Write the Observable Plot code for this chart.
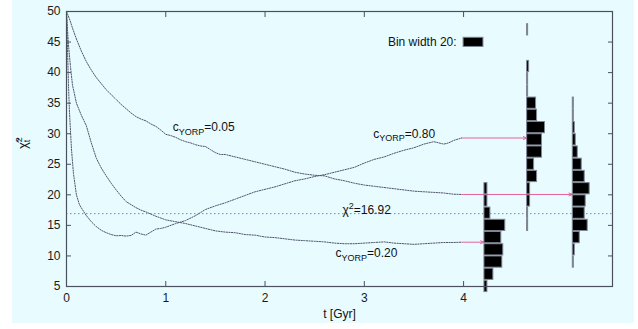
<!DOCTYPE html>
<html>
<head>
<meta charset="utf-8">
<script src="https://cdn.jsdelivr.net/npm/d3@7"></script>
<script src="https://cdn.jsdelivr.net/npm/@observablehq/plot@0.6"></script>
<style>
  html, body { margin: 0; padding: 0; background: #ffffff; }
  #wrap { position: relative; width: 638px; height: 329px; overflow: hidden; }
  #bg { position: absolute; left: 12px; top: 0; width: 622px; height: 323px; background: #e8fcff; }
  #chart { position: absolute; left: 0; top: 0; }
  #chart svg { display: block; }
</style>
</head>
<body>
<div id="wrap"><div id="bg"></div><div id="chart"></div></div>
<script>
// ---- data ----
const xTicks = [0, 1, 2, 3, 4];
const yTicks = [5, 10, 15, 20, 25, 30, 35, 40, 45, 50];

const t005 = [0, 0.03, 0.06, 0.1, 0.15, 0.2, 0.25, 0.3, 0.35, 0.4, 0.45, 0.5, 0.55, 0.6, 0.65, 0.7, 0.75, 0.8, 0.85, 0.9, 0.95, 1.0, 1.05, 1.1, 1.15, 1.2, 1.25, 1.3, 1.35, 1.4, 1.45, 1.5, 1.55, 1.6, 1.7, 1.8, 1.9, 2.0, 2.1, 2.2, 2.3, 2.4, 2.5, 2.6, 2.7, 2.8, 2.9, 3.0, 3.1, 3.2, 3.3, 3.4, 3.5, 3.6, 3.7, 3.8, 3.9, 3.98];
const v005 = [50, 48.8, 47.3, 45.5, 43.5, 41.8, 40.4, 39.2, 38.2, 37.2, 36.4, 35.6, 34.8, 34.1, 33.4, 32.8, 32.4, 32.1, 31.6, 31.2, 30.6, 29.9, 29.7, 29.4, 29.0, 28.7, 28.5, 28.2, 28.0, 27.9, 27.4, 26.9, 26.6, 26.6, 26.2, 25.8, 25.4, 25.0, 24.6, 24.2, 23.7, 23.4, 23.2, 23.1, 22.6, 22.3, 21.9, 21.6, 21.4, 21.2, 21.0, 20.8, 20.6, 20.5, 20.4, 20.3, 20.1, 20.06];

const t020 = [0, 0.01, 0.02, 0.04, 0.06, 0.1, 0.15, 0.2, 0.25, 0.3, 0.35, 0.4, 0.45, 0.5, 0.55, 0.6, 0.65, 0.7, 0.75, 0.8, 0.9, 1.0, 1.1, 1.2, 1.3, 1.4, 1.5, 1.6, 1.7, 1.8, 1.9, 2.0, 2.1, 2.2, 2.3, 2.4, 2.5, 2.6, 2.7, 2.8, 2.9, 3.0, 3.1, 3.2, 3.3, 3.4, 3.5, 3.6, 3.7, 3.8, 3.9, 3.98];
const v020 = [50, 47, 44.5, 41, 38, 35, 33, 31.3, 28.5, 26, 24.4, 23.1, 21.9, 20.8, 19.8, 18.9, 18.4, 17.9, 17.5, 17.2, 16.5, 15.9, 15.6, 15.3, 14.9, 14.5, 14.1, 13.9, 13.8, 13.5, 13.4, 13.1, 13.0, 12.8, 12.6, 12.5, 12.4, 12.3, 12.1, 12.0, 12.0, 12.1, 12.2, 12.3, 12.1, 12.0, 11.9, 12.0, 12.1, 12.2, 12.2, 12.25];

const t080 = [0, 0.01, 0.02, 0.03, 0.05, 0.07, 0.1, 0.13, 0.16, 0.2, 0.25, 0.3, 0.35, 0.4, 0.45, 0.5, 0.55, 0.6, 0.65, 0.7, 0.75, 0.8, 0.85, 0.9, 0.95, 1.0, 1.1, 1.2, 1.3, 1.4, 1.5, 1.6, 1.7, 1.8, 1.9, 2.0, 2.1, 2.2, 2.3, 2.4, 2.5, 2.6, 2.7, 2.8, 2.9, 3.0, 3.1, 3.2, 3.3, 3.4, 3.5, 3.6, 3.7, 3.75, 3.8, 3.85, 3.9, 3.98];
const v080 = [50, 44, 38, 33.5, 27.5, 23.5, 20.0, 18.4, 17.6, 16.6, 15.6, 14.8, 14.2, 13.8, 13.5, 13.3, 13.35, 13.25, 13.35, 13.9, 13.6, 13.4, 13.9, 14.4, 14.5, 14.7, 15.3, 15.8, 16.6, 17.6, 18.2, 18.7, 19.3, 19.9, 20.5, 20.9, 21.3, 21.8, 22.3, 22.6, 23.0, 23.3, 23.7, 24.1, 24.5, 25.2, 25.8, 26.2, 26.8, 27.3, 27.7, 28.3, 28.7, 28.5, 28.3, 28.5, 28.9, 29.3];

const chiSq = 16.92;

// histograms: bin centres (bin width 2) and counts
const binCenters020 = [5, 7, 9, 11, 13, 15, 17, 19, 21];
const counts020     = [3, 9, 18, 19, 17, 21, 6, 3, 3];
const binCenters080 = [15, 17, 19, 21, 23, 25, 27, 29, 31, 33, 35, 37, 39, 41, 47];
const counts080     = [1, 1, 3, 3, 10, 7, 15, 15, 18, 10, 9, 1, 1, 2, 1];
const binCenters005 = [9, 11, 13, 15, 17, 19, 21, 23, 25, 27, 29, 31, 33, 35];
const counts005     = [1, 2, 7, 15, 12, 13, 17, 12, 9, 5, 3, 2, 1, 1];
const histBase = {"0.20": 4.21, "0.80": 4.64, "0.05": 5.10};   // t position of each histogram
const binUnit = 0.01;    // Gyr per count (20 counts = legend bar)
const legendCount = 20;

// arrows from curve end to histogram
const arrowNames = ["0.20", "0.80", "0.05"];
const arrowStart = [3.98, 3.98, 3.98];
const arrowY = [12.25, 29.3, 20.06];

// labels
const labelTexts = ["c_{YORP}=0.05", "c_{YORP}=0.80", "χ^{2}=16.92", "c_{YORP}=0.20"];
const labelT = [1.07, 3.09, 2.78, 2.71];
const labelV = [31.0, 30.0, 17.55, 10.45];

// ---- build tables ----
const line = (ts, vs) => ts.map((t, i) => ({t, v: vs[i]}));
const hist = [];
[["0.20", binCenters020, counts020], ["0.80", binCenters080, counts080], ["0.05", binCenters005, counts005]]
  .forEach(([k, cs, ns]) => cs.forEach((c, i) => hist.push({base: histBase[k], center: c, count: ns[i]})));
const arrows = arrowNames.map((k, i) => ({x1: arrowStart[i], x2: histBase[k], y: arrowY[i]}));
const labels = labelTexts.map((s, i) => ({s, t: labelT[i], v: labelV[i]}));
const legend = [{x: 4.0, count: legendCount, y1: 44.2, y2: 45.7, label: "Bin width 20:", lx: 3.93, ly: 45.0}];

const curveStyle = {x: "t", y: "v", stroke: "#50566c", strokeWidth: 1, strokeDasharray: "1.3,1.3"};
const ink = "#4a5060";

const plot = Plot.plot({
  width: 638, height: 329,
  marginLeft: 66, marginRight: 26, marginTop: 11, marginBottom: 43,
  x: {domain: [0, 5.5]},
  y: {domain: [5, 50]},
  style: {background: "transparent", fontFamily: "'Liberation Sans', Arial, sans-serif", fontSize: "12px", color: "#1a1a1a"},
  marks: [
    Plot.ruleY([chiSq], {stroke: "#6a84d4", strokeWidth: 1, strokeDasharray: "1.5,2.5"}),
    Plot.line(line(t005, v005), curveStyle),
    Plot.line(line(t020, v020), curveStyle),
    Plot.line(line(t080, v080), curveStyle),
    Plot.arrow(arrows, {x1: "x1", x2: "x2", y1: "y", y2: "y", stroke: "#e8609c", strokeWidth: 1, headLength: 6, headAngle: 40}),
    Plot.rect(hist, {x1: "base", x2: d => d.base + d.count * binUnit, y1: d => d.center - 1, y2: d => d.center + 1,
      insetTop: 0.5, insetBottom: 0.5, fill: "#000", stroke: "#7f8594", strokeWidth: 1}),
    Plot.rect(legend, {x1: "x", x2: d => d.x + d.count * binUnit, y1: "y1", y2: "y2", fill: "#000", stroke: "#7f8594"}),
    Plot.text(legend, {x: "lx", y: "ly", text: "label", textAnchor: "end", fill: "#111"}),
    Plot.text(labels, {x: "t", y: "v", text: "s", textAnchor: "start", fill: "#111", fontSize: 12}),
    Plot.axisX({anchor: "bottom", ticks: xTicks, tickSize: -5, tickPadding: 12, tickFormat: d => String(d), stroke: ink, label: null}),
    Plot.axisX({anchor: "top", ticks: xTicks, tickSize: -5, tickFormat: () => "", stroke: ink, label: null}),
    Plot.axisY({anchor: "left", ticks: yTicks, tickSize: -5, tickPadding: 11, tickFormat: d => String(d), stroke: ink, label: null}),
    Plot.axisY({anchor: "right", ticks: yTicks, tickSize: -5, tickFormat: () => "", stroke: ink, label: null}),
    Plot.text(["t [Gyr]"], {frameAnchor: "bottom", dy: 31, fill: "#111"}),
    Plot.text(["χ\u0303^{2}|_{t}"], {frameAnchor: "left", rotate: -90, dx: -44, fill: "#111", fontSize: 13}),
    Plot.frame({stroke: ink, strokeWidth: 1.2})
  ]
});

document.getElementById("chart").appendChild(plot);

// rich text: _{..} subscript, ^{..} superscript, "|" stacks next script under previous
const svgns = "http://www.w3.org/2000/svg";
d3.select(plot).selectAll("text").each(function () {
  const el = this;
  const s = el.textContent;
  if (!/[_^]\{/.test(s)) return;
  const parts = s.split(/(\|?[_^]\{[^}]*\})/).filter(p => p);
  while (el.firstChild) el.removeChild(el.firstChild);
  let shift = 0, lastScript = null;
  for (const p of parts) {
    const m = p.match(/^(\|?)([_^])\{([^}]*)\}$/);
    const ts = document.createElementNS(svgns, "tspan");
    if (m) {
      const target = m[2] === "_" ? 3.5 : -5;
      ts.setAttribute("dy", target - shift);
      shift = target;
      ts.setAttribute("font-size", "9");
      ts.textContent = m[3];
      el.appendChild(ts);
      if (m[1] && lastScript) ts.setAttribute("dx", -lastScript.getComputedTextLength());
      lastScript = ts;
    } else {
      ts.setAttribute("dy", -shift);
      shift = 0;
      ts.textContent = p;
      el.appendChild(ts);
      lastScript = null;
    }
  }
});
</script>
</body>
</html>
